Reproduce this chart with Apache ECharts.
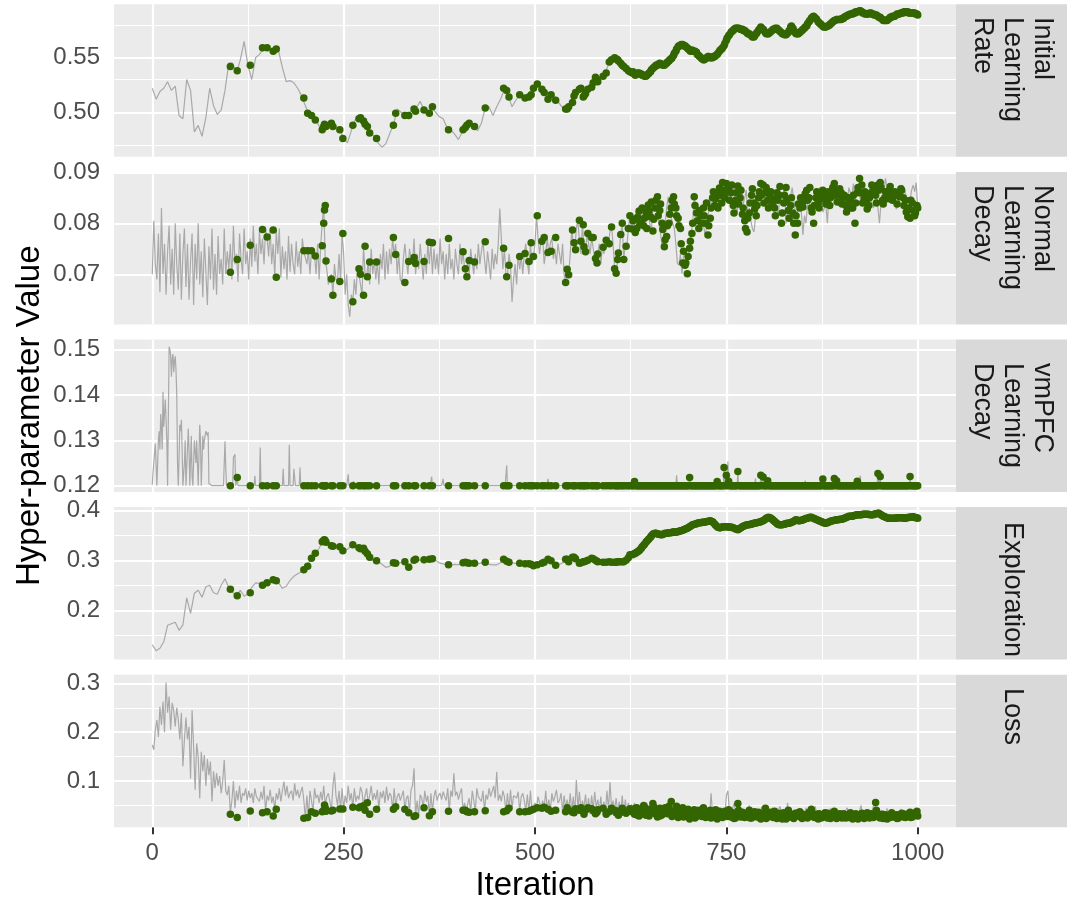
<!DOCTYPE html>
<html>
<head>
<meta charset="utf-8">
<title>Hyper-parameter traces</title>
<script src="https://cdn.jsdelivr.net/npm/echarts@6.0.0/dist/echarts.min.js"></script>
<style>
html, body { margin: 0; padding: 0; background: #ffffff; }
#chart { width: 1067px; height: 909px; }
</style>
</head>
<body>
<div id="chart"></div>
<script>
// ---------------------------------------------------------------------------
// Data: sampled parameter traces and accepted samples
// ---------------------------------------------------------------------------
const iterTicks = [0, 250, 500, 750, 1000];
const panelLabels = ['Initial\nLearning\nRate', 'Normal\nLearning\nDecay', 'vmPFC\nLearning\nDecay', 'Exploration', 'Loss'];
const yTicks = [
  [0.50, 0.55],
  [0.07, 0.08, 0.09],
  [0.12, 0.13, 0.14, 0.15],
  [0.2, 0.3, 0.4],
  [0.1, 0.2, 0.3]
];
const yDecimals = [2, 2, 2, 1, 1];
// iteration spacing of the sampled traces
const lrStep = 5, nldStep = 2, explStep = 5, lossStep = 2;

// iterations at which a proposal was accepted
const accepted = [
  102,111,128,144,150,158,162,198,203,208,213,222,224,225,226,227,234,236,245,249,262,
  270,272,276,278,281,284,293,315,318,330,335,342,344,355,362,366,387,406,409,411,414,421,435,
  459,463,466,480,487,492,495,498,503,509,512,517,521,527,540,542,544,549,551,553,558,560,
  563,564,566,569,574,576,579,581,582,589,593,597,600,604,606,608,609,612,614,616,619,622,624,
  627,630,633,636,639,642,645,648,651,654, 657,660,663,666,669,672,675,678,681,684,
  687,690,693,696,699,702,705,708,711,714, 717,720,723,726,729,732,735,738,741,744,
  747,750,753,756,759,762,765,768,771,774, 777,780,783,786,789,792,795,798,801,804,
  807,810,813,816,819,822,825,828,831,834, 837,840,843,846,849,852,855,858,861,864,
  867,870,873,876,879,882,885,888,891,894, 897,900,903,906,909,912,915,918,921,924,
  927,930,933,936,939,942,945,948,951,954, 957,960,963,966,969,972,975,978,981,984,
  987,990,993,996,999,1000,
  628,631,634,637,640,643,646,649,652,655, 658,661,664,667,670,673,676,679,682,685,
  688,691,694,697,700,703,706,709,712,715, 718,721,724,727,730,733,736,739,742,745,
  748,751,754,757,760,763,766,769,772,775, 778,781,784,787,790,793,796,799,802,805,
  808,811,814,817,820,823,826,829,832,835, 838,841,844,847,850,853,856,859,862,865,
  868,871,874,877,880,883,886,889,892,895, 898,901,904,907,910,913,916,919,922,925,
  928,931,934,937,940,943,946,949,952,955, 958,961,964,967,970,973,976,979,982,985,
  988,991,994,997
];

// Initial learning rate (every 5 iterations)
const lrTrace = [
  .522,.512,.519,.522,.528,.520,.524,.497,.494,.530,
  .520,.482,.488,.478,.495,.522,.506,.498,.502,.520,
  .545,.545,.536,.548,.565,.543,.530,.550,.553,.558,
  .559,.556,.555,.556,.541,.528,.529,.527,.522,.515,
  .506,.497,.495,.491,.485,.489,.489,.485,.487,.484,
  .476,.472,.483,.493,.496,.496,.487,.481,.478,.472,
  .468,.471,.480,.488,.503,.500,.497,.499,.502,.504,
  .510,.502,.497,.505,.500,.496,.494,.486,.484,.480,
  .475,.482,.488,.490,.487,.483,.490,.504,.505,.497,
  .505,.512,.521,.515,.505,.511,.516,.513,.514,.516,
  .522,.524,.520,.515,.517,.515,.510,.505,.503,.507,
  .515,.518,.520,.516,.521,.526,.531,.530,.534,.542,
  .547,.550,.546,.542,.539,.537,.535,.535,.534,.533,
  .537,.541,.543,.545,.544,.547,.551,.557,.561,.561,
  .558,.557,.555,.552,.548,.551,.550,.551,.555,.559,
  .566,.572,.576,.577,.576,.574,.572,.569,.573,.578,
  .573,.572,.575,.577,.574,.572,.571,.579,.573,.572,
  .575,.579,.586,.588,.583,.579,.578,.580,.583,.585,
  .585,.587,.589,.590,.592,.593,.591,.590,.591,.589,
  .587,.585,.584,.587,.588,.590,.591,.592,.591,.591,
  .589
];
const lrAccepted = [
  .542,.538,.543,.559,.559,.556,.558,.513,.499,.497,.493,.484,.487,.489,.488,.487,.490,.487,.484,.476,.488,
  .494,.495,.492,.489,.487,.481,.476,.488,.499,.497,.497,.503,.501,.502,.499,.505,.484,.484,.486,.488,.490,.487,.504,
  .522,.520,.514,.516,.513,.514,.516,.522,.526,.521,.518,.512,.516,.511,.503,.503,.505,.509,.515,.518,.521,.522,
  .514,.515,.517,.521,.523,.527,.532,.530,.528,.533,.536,.546,.548,.550,.549,.548,.547,.545,.543,.542,.540,.538,.537,
  .536,.535,.535,.536,.535,.534,.533,.535,.537,.540, .542,.543,.545,.544,.543,.545,.547,.549,.552,.556,
  .560,.561,.562,.561,.559,.557,.557,.556,.555,.552, .550,.548,.549,.551,.550,.550,.551,.553,.556,.558,
  .561,.566,.570,.573,.575,.577,.577,.576,.576,.575, .573,.572,.570,.569,.572,.575,.578,.576,.573,.572,
  .573,.575,.576,.577,.575,.573,.572,.571,.573,.578, .577,.573,.572,.573,.575,.577,.579,.583,.586,.588,
  .586,.583,.581,.579,.578,.579,.580,.582,.584,.585, .585,.585,.586,.588,.589,.590,.590,.591,.592,.593,
  .592,.591,.590,.590,.591,.590,.589,.588,.587,.585, .584,.584,.586,.587,.588,.589,.590,.591,.591,.592,
  .592,.591,.591,.591,.590,.589,
  .537,.534,.536,.535,.534,.533,.534,.536,.539,.541, .543,.544,.544,.543,.544,.546,.548,.550,.554,.558,
  .561,.562,.561,.560,.558,.556,.556,.556,.553,.551, .549,.548,.550,.551,.550,.551,.552,.554,.557,.559,
  .563,.568,.571,.574,.576,.577,.577,.576,.575,.574, .572,.571,.569,.570,.573,.576,.577,.575,.572,.572,
  .574,.576,.577,.576,.574,.572,.571,.572,.575,.579, .575,.572,.572,.574,.576,.578,.581,.584,.587,.587,
  .585,.582,.580,.578,.578,.579,.581,.583,.584,.585, .585,.586,.587,.588,.589,.590,.591,.592,.592,.593,
  .591,.590,.590,.591,.590,.589,.589,.587,.586,.584, .584,.585,.587,.588,.588,.590,.590,.591,.592,.592,
  .591,.591,.591,.590
];

// Normal learning decay (every 2 iterations)
const nldTrace = [
  .0700,.0805,.0720,.0690,.0780,.0665,.0830,.0700,.0760,.0660,.0745,.0795,.0680,.0750,.0660,.0800,.0720,.0670,.0780,.0650,.0740,.0790,.0675,.0760,.0650,
  .0725,.0780,.0640,.0760,.0690,.0800,.0680,.0745,.0655,.0770,.0705,.0640,.0755,.0690,.0790,.0670,.0740,.0660,.0775,.0700,.0730,.0680,.0790,.0700,.0745,
  .0710,.0760,.0690,.0795,.0720,.0740,.0685,.0780,.0730,.0700,.0790,.0720,.0745,.0690,.0770,.0715,.0795,.0725,.0760,.0700,.0785,.0740,.0770,.0720,.0788,
  .0773,.0735,.0790,.0720,.0760,.0695,.0787,.0740,.0790,.0694,.0755,.0710,.0745,.0690,.0775,.0705,.0760,.0720,.0700,.0765,.0715,.0745,.0700,.0770,.0746,
  .0746,.0720,.0746,.0700,.0746,.0740,.0736,.0700,.0760,.0690,.0756,.0800,.0835,.0726,.0710,.0680,.0691,.0700,.0659,.0720,.0690,.0686,.0740,.0686,.0780,
  .0740,.0660,.0700,.0640,.0617,.0660,.0646,.0690,.0660,.0711,.0700,.0680,.0659,.0755,.0700,.0695,.0724,.0680,.0750,.0700,.0730,.0690,.0724,.0680,.0740,
  .0710,.0760,.0690,.0745,.0700,.0750,.0720,.0772,.0739,.0760,.0700,.0740,.0690,.0684,.0730,.0760,.0725,.0700,.0750,.0733,.0721,.0770,.0700,.0740,.0710,
  .0760,.0725,.0690,.0740,.0700,.0763,.0720,.0762,.0700,.0750,.0710,.0740,.0700,.0770,.0720,.0745,.0690,.0740,.0700,.0760,.0710,.0730,.0690,.0750,.0720,
  .0700,.0760,.0720,.0744,.0711,.0695,.0727,.0700,.0750,.0724,.0700,.0740,.0710,.0760,.0720,.0745,.0764,.0730,.0700,.0745,.0720,.0690,.0750,.0710,.0740,
  .0720,.0760,.0829,.0770,.0710,.0751,.0700,.0695,.0740,.0718,.0646,.0690,.0720,.0680,.0740,.0710,.0735,.0700,.0741,.0760,.0725,.0700,.0762,.0720,.0735,
  .0760,.0815,.0770,.0740,.0765,.0772,.0720,.0743,.0770,.0740,.0760,.0772,.0730,.0750,.0720,.0760,.0740,.0720,.0760,.0700,.0684,.0710,.0699,.0740,.0787,
  .0762,.0748,.0790,.0806,.0765,.0740,.0797,.0754,.0744,.0780,.0760,.0740,.0772,.0770,.0731,.0722,.0740,.0760,.0720,.0753,.0740,.0767,.0770,.0760,.0785,
  .0793,.0760,.0711,.0702,.0729,.0742,.0778,.0800,.0729,.0760,.0755,.0790,.0815,.0789,.0808,.0790,.0824,.0800,.0795,.0821,.0810,.0790,.0836,.0820,.0813,
  .0800,.0785,.0830,.0852,.0840,.0825,.0800,.0780,.0754,.0774,.0800,.0830,.0852,.0830,.0810,.0800,.0790,.0760,.0722,.0718,.0740,.0701,.0735,.0751,.0720,
  .0735,.0751,.0780,.0800,.0852,.0830,.0820,.0790,.0815,.0830,.0800,.0777,.0790,.0810,.0850,.0835,.0845,.0860,.0830,.0869,.0840,.0865,.0880,.0850,.0865,
  .0878,.0862,.0870,.0845,.0860,.0875,.0835,.0820,.0845,.0860,.0873,.0838,.0850,.0865,.0818,.0830,.0805,.0790,.0783,.0810,.0820,.0840,.0855,.0868,.0878,
  .0860,.0870,.0845,.0830,.0850,.0862,.0838,.0848,.0830,.0815,.0860,.0845,.0855,.0872,.0800,.0820,.0840,.0855,.0870,.0845,.0825,.0810,.0835,.0850,.0820,
  .0777,.0815,.0800,.0838,.0830,.0850,.0840,.0832,.0845,.0858,.0865,.0870,.0850,.0822,.0830,.0835,.0800,.0862,.0850,.0830,.0840,.0848,.0855,.0858,.0865,
  .0838,.0850,.0862,.0840,.0835,.0870,.0860,.0855,.0878,.0842,.0865,.0868,.0855,.0838,.0860,.0855,.0850,.0822,.0835,.0850,.0838,.0830,.0845,.0855,.0830,
  .0800,.0840,.0860,.0870,.0888,.0860,.0875,.0840,.0850,.0862,.0845,.0828,.0835,.0850,.0860,.0875,.0868,.0858,.0855,.0840,.0845,.0865,.0875,.0862,.0880,
  .0830
];
const nldAccepted = [
  .0704,.0729,.0757,.0788,.0773,.0787,.0694,.0746,.0746,.0746,.0736,.0756,.0800,.0826,.0835,.0726,.0691,.0659,.0686,.0780,.0646,
  .0711,.0700,.0659,.0755,.0695,.0724,.0724,.0772,.0739,.0684,.0725,.0733,.0721,.0725,.0763,.0762,.0770,.0744,.0711,.0695,.0727,.0724,.0764,
  .0751,.0695,.0718,.0735,.0741,.0725,.0762,.0735,.0815,.0765,.0772,.0743,.0745,.0772,.0684,.0710,.0699,.0787,.0762,.0748,.0806,.0765,
  .0797,.0754,.0744,.0780,.0772,.0772,.0731,.0722,.0740,.0753,.0767,.0760,.0793,.0711,.0702,.0729,.0742,.0778,.0800,.0729,.0755,.0790,.0815,
  .0789,.0808,.0790,.0824,.0800,.0795,.0821,.0836,.0813,.0785, .0830,.0852,.0825,.0800,.0754,.0774,.0800,.0830,.0852,.0830,
  .0810,.0790,.0722,.0718,.0701,.0751,.0780,.0852,.0820,.0790, .0815,.0830,.0800,.0777,.0810,.0850,.0835,.0860,.0869,.0840,
  .0865,.0878,.0870,.0860,.0835,.0845,.0873,.0850,.0818,.0805, .0783,.0820,.0855,.0840,.0815,.0850,.0878,.0875,.0860,.0845,
  .0850,.0838,.0830,.0860,.0855,.0800,.0840,.0870,.0825,.0835, .0820,.0777,.0800,.0830,.0840,.0845,.0865,.0850,.0830,.0800,
  .0850,.0840,.0855,.0865,.0850,.0840,.0835,.0860,.0878,.0865, .0855,.0860,.0850,.0835,.0838,.0845,.0830,.0800,.0860,.0888,
  .0875,.0850,.0845,.0835,.0860,.0868,.0855,.0875,.0880,.0845, .0850,.0855,.0865,.0850,.0855,.0858,.0860,.0868,.0850,.0845,
  .0813,.0810,.0840,.0815,.0835,.0830,
  .0805,.0782,.0812,.0798,.0830,.0810,.0790,.0825,.0842,.0808, .0845,.0815,.0838,.0788,.0768,.0795,.0818,.0845,.0838,.0815,
  .0795,.0760,.0745,.0722,.0735,.0765,.0800,.0835,.0805,.0825, .0800,.0815,.0840,.0795,.0830,.0862,.0848,.0830,.0855,.0880,
  .0850,.0862,.0845,.0875,.0820,.0860,.0838,.0865,.0830,.0790, .0810,.0840,.0868,.0828,.0835,.0862,.0855,.0840,.0870,.0830,
  .0862,.0848,.0815,.0845,.0872,.0820,.0855,.0845,.0810,.0850, .0800,.0815,.0838,.0850,.0832,.0858,.0845,.0870,.0822,.0835,
  .0862,.0830,.0848,.0858,.0838,.0862,.0850,.0870,.0855,.0842, .0868,.0838,.0855,.0822,.0850,.0830,.0855,.0840,.0870,.0860,
  .0840,.0862,.0828,.0850,.0875,.0858,.0840,.0865,.0870,.0838, .0862,.0848,.0872,.0845,.0862,.0838,.0852,.0865,.0835,.0822,
  .0830,.0845,.0825,.0820
];

// vmPFC learning decay: trace vertices [iteration, value]
const vmpfcTrace = [
  [0,.1202],[1,.1229],[3,.1229],[4,.1293],[6,.1200],[8,.1300],[9,.1320],[10,.1280],[11,.1358],[12,.1330],
  [13,.1280],[14,.1407],[15,.1330],[16,.1360],[17,.1390],[19,.1300],[20,.1200],[21,.1350],[22,.1506],[23,.1500],
  [24,.1488],[25,.1440],[26,.1480],[27,.1490],[28,.1450],[29,.1475],[30,.1485],[31,.1455],[32,.1400],[33,.1250],
  [34,.1200],[35,.1260],[36,.1334],[37,.1320],[38,.1345],[39,.1280],[40,.1200],[42,.1250],[43,.1300],[44,.1200],
  [46,.1280],[47,.1326],[48,.1280],[49,.1200],[51,.1310],[52,.1220],[53,.1200],[55,.1300],[57,.1250],[58,.1300],
  [60,.1200],[62,.1334],[63,.1300],[64,.1200],[66,.1310],[67,.1280],[68,.1300],[70,.1320],[72,.1310],[73,.1318],
  [74,.1205],[76,.1205],[78,.1200],[93,.1200],[95,.1298],[96,.1240],[97,.1200],[105,.1200],[106,.1262],[108,.1269],
  [109,.1200],[110,.1200],[111,.1218],[112,.1200],[133,.1200],[134,.1222],[135,.1200],[140,.1200],[141,.1284],[142,.1200],
  [170,.1200],[171,.1237],[172,.1200],[178,.1200],[179,.1290],[180,.1200],[184,.1200],[185,.1237],[187,.1200],[192,.1200],
  [193,.1240],[194,.1200],[254,.1200],[256,.1225],[257,.1200],[262,.1200],[263,.1210],[264,.1200],[363,.1200],[365,.1220],
  [366,.1200],[378,.1200],[380,.1215],[381,.1200],[461,.1200],[463,.1245],[464,.1200],[515,.1200],[517,.1215],[518,.1200],
  [629,.1200],[630,.1209],[631,.1200],[684,.1200],[685,.1223],[686,.1200],[701,.1200],[702,.1218],[703,.1200],[737,.1200],
  [738,.1209],[739,.1200],[746,.1200],[747,.1240],[748,.1200],[749,.1200],[750,.1223],[751,.1200],[752,.1253],[753,.1210],
  [754,.1200],[764,.1200],[765,.1231],[766,.1200],[787,.1200],[788,.1216],[789,.1200],[794,.1200],[795,.1223],[796,.1200],
  [797,.1200],[798,.1219],[799,.1200],[803,.1200],[804,.1211],[805,.1200],[852,.1200],[853,.1211],[854,.1200],[875,.1200],
  [876,.1215],[877,.1200],[890,.1200],[891,.1216],[892,.1200],[893,.1200],[894,.1211],[895,.1200],[920,.1200],[921,.1210],
  [922,.1200],[924,.1200],[925,.1222],[926,.1200],[947,.1200],[948,.1227],[949,.1200],[950,.1200],[951,.1220],[952,.1200],
  [989,.1200],[990,.1220],[991,.1200],[1000,.1200]
];
const vmpfcAccepted = [
  .12,.1218,.12,.12,.12,.12,.12,.12,.12,.12,.12,.12,.12,.12,.12,.12,.12,.12,.12,.12,.12,
  .12,.12,.12,.12,.12,.12,.12,.12,.12,.12,.12,.12,.12,.12,.12,.12,.12,.12,.12,.12,.12,.12,.12,
  .12,.12,.12,.12,.12,.12,.12,.12,.12,.12,.12,.12,.12,.12,.12,.12,.12,.12,.12,.12,.12,.12,
  .12,.12,.12,.12,.12,.12,.12,.12,.12,.12,.12,.12,.12,.12,.12,.12,.12,.12,.12,.12,.12,.12,.12,
  .12,.1209,.12,.12,.12,.12,.12,.12,.12,.12, .12,.12,.12,.12,.12,.12,.12,.12,.12,.12,
  .12,.12,.12,.12,.12,.1218,.12,.12,.12,.12, .12,.12,.12,.12,.12,.12,.12,.1209,.12,.12,
  .124,.1223,.121,.12,.12,.12,.1231,.12,.12,.12, .12,.12,.12,.12,.12,.12,.1223,.1219,.12,.1211,
  .12,.12,.12,.12,.12,.12,.12,.12,.12,.12, .12,.12,.12,.12,.12,.12,.12,.12,.12,.12,
  .12,.12,.12,.1215,.12,.12,.12,.12,.1216,.1211, .12,.12,.12,.12,.12,.12,.12,.12,.121,.12,
  .12,.12,.12,.12,.12,.12,.12,.1227,.122,.12, .12,.12,.12,.12,.12,.12,.12,.12,.12,.12,
  .12,.122,.12,.12,.12,.12,
  .12,.12,.12,.12,.12,.12,.12,.12,.12,.12, .12,.12,.12,.12,.12,.12,.12,.12,.12,.12,
  .12,.12,.12,.12,.12,.12,.12,.12,.12,.12, .12,.12,.12,.12,.12,.12,.12,.12,.12,.12,
  .12,.12,.12,.12,.12,.12,.12,.12,.12,.12, .12,.12,.12,.12,.12,.12,.12,.12,.12,.12,
  .12,.12,.12,.12,.12,.12,.12,.12,.12,.12, .12,.12,.12,.12,.12,.12,.12,.12,.12,.12,
  .12,.12,.12,.12,.12,.12,.12,.12,.12,.12, .12,.12,.12,.12,.12,.12,.12,.12,.12,.12,
  .12,.12,.12,.12,.12,.12,.12,.12,.12,.12, .12,.12,.12,.12,.12,.12,.12,.12,.12,.12,
  .12,.12,.12,.12
];

// Exploration (every 5 iterations)
const explTrace = [
  .131,.119,.124,.137,.170,.173,.176,.160,.171,.225,
  .194,.234,.240,.226,.247,.250,.235,.232,.250,.263,
  .245,.236,.229,.240,.228,.233,.246,.255,.254,.252,
  .255,.260,.260,.255,.244,.248,.260,.268,.273,.277,
  .285,.297,.307,.316,.330,.341,.333,.329,.327,.326,
  .318,.322,.329,.327,.322,.324,.312,.301,.299,.298,
  .292,.286,.288,.295,.294,.296,.296,.287,.298,.302,
  .300,.301,.300,.303,.300,.295,.293,.291,.290,.292,
  .291,.295,.296,.294,.294,.293,.295,.296,.292,.291,
  .291,.295,.300,.298,.295,.294,.294,.293,.293,.292,
  .290,.292,.294,.299,.299,.292,.290,.294,.301,.297,
  .305,.297,.296,.298,.302,.304,.299,.296,.296,.297,
  .297,.296,.297,.297,.303,.310,.313,.318,.328,.336,
  .345,.354,.353,.351,.354,.355,.356,.356,.359,.361,
  .365,.370,.373,.375,.376,.377,.379,.372,.365,.366,
  .367,.367,.365,.361,.366,.370,.371,.373,.375,.377,
  .381,.386,.382,.375,.371,.372,.374,.376,.380,.379,
  .382,.384,.386,.383,.380,.376,.374,.377,.380,.381,
  .382,.385,.387,.388,.391,.391,.392,.392,.391,.393,
  .393,.388,.385,.384,.384,.385,.385,.384,.386,.387,
  .384
];
const explAccepted = [
  .242,.229,.235,.250,.255,.261,.259,.281,.288,.304,.314,.337,.340,.341,.339,.336,.329,.328,.327,.319,.331,
  .325,.323,.324,.318,.313,.306,.299,.295,.294,.297,.286,.300,.302,.301,.302,.303,.291,.295,.296,.295,.294,.294,.296,
  .302,.298,.296,.294,.293,.293,.292,.289,.291,.294,.296,.302,.299,.290,.302,.302,.297,.306,.306,.303,.294,.295,
  .297,.297,.298,.300,.304,.303,.300,.298,.297,.296,.296,.297,.296,.296,.296,.297,.297,.297,.297,.297,.300,.305,.311,
  .311,.313,.316,.319,.324,.330,.336,.341,.346,.352, .354,.353,.352,.351,.353,.354,.355,.355,.357,.356,
  .357,.359,.360,.362,.364,.367,.370,.372,.373,.375, .375,.376,.377,.378,.379,.377,.372,.367,.365,.366,
  .367,.367,.367,.366,.365,.363,.361,.364,.367,.369, .371,.371,.372,.374,.375,.376,.377,.379,.382,.385,
  .385,.382,.378,.374,.371,.371,.372,.373,.374,.375, .377,.380,.380,.379,.380,.382,.384,.385,.386,.384,
  .382,.380,.378,.376,.374,.375,.377,.379,.380,.381, .381,.382,.383,.385,.387,.388,.388,.390,.391,.391,
  .391,.392,.392,.392,.391,.391,.393,.394,.392,.389, .387,.385,.384,.384,.384,.384,.385,.385,.385,.384,
  .385,.386,.387,.386,.385,.384,
  .312,.314,.317,.321,.327,.332,.338,.343,.349,.353, .354,.352,.351,.352,.354,.354,.355,.356,.356,.357,
  .358,.359,.361,.363,.365,.368,.371,.372,.374,.375, .376,.376,.377,.378,.378,.375,.370,.366,.365,.367,
  .367,.367,.366,.366,.364,.362,.362,.365,.368,.370, .371,.372,.373,.374,.375,.376,.378,.380,.384,.386,
  .384,.380,.376,.372,.371,.371,.372,.374,.374,.376, .378,.381,.379,.380,.381,.383,.384,.386,.385,.383,
  .381,.379,.377,.375,.374,.376,.378,.379,.380,.381, .382,.382,.384,.386,.388,.388,.389,.390,.391,.391,
  .392,.392,.392,.391,.391,.392,.393,.394,.391,.388, .386,.384,.384,.384,.384,.385,.385,.385,.384,.385,
  .386,.386,.387,.385
];

// Loss (every 2 iterations)
const lossTrace = [
  .174,.164,.205,.225,.190,.252,.215,.263,.200,.302,.240,.273,.205,.260,.245,.212,.250,.225,.185,.240,.130,.185,.230,.185,.211,
  .105,.245,.170,.082,.177,.150,.064,.160,.120,.153,.090,.145,.112,.140,.058,.120,.085,.116,.090,.110,.075,.100,.143,.080,.071,
  .090,.034,.060,.100,.044,.080,.060,.090,.055,.075,.070,.085,.060,.080,.065,.075,.055,.085,.068,.072,.058,.078,.062,.090,.037,
  .070,.060,.082,.055,.068,.042,.075,.062,.085,.058,.080,.099,.070,.090,.065,.075,.080,.060,.095,.070,.082,.065,.078,.088,.060,
  .024,.070,.025,.080,.060,.037,.085,.065,.072,.055,.078,.060,.090,.051,.068,.075,.058,.039,.090,.118,.070,.050,.080,.043,.085,
  .043,.070,.055,.090,.060,.075,.046,.085,.058,.070,.062,.088,.078,.049,.070,.085,.056,.070,.090,.060,.075,.062,.082,.042,.078,
  .065,.080,.055,.088,.060,.075,.070,.042,.085,.047,.068,.075,.060,.070,.080,.042,.065,.070,.035,.082,.090,.126,.027,.060,.029,
  .072,.065,.045,.080,.058,.070,.029,.075,.037,.068,.082,.060,.070,.075,.062,.078,.068,.060,.085,.038,.080,.068,.116,.070,.078,
  .062,.075,.085,.040,.055,.040,.037,.065,.036,.080,.060,.037,.085,.068,.070,.058,.080,.039,.072,.062,.085,.068,.070,.090,.065,
  .119,.060,.072,.058,.080,.068,.037,.075,.039,.082,.044,.070,.072,.065,.078,.037,.068,.075,.060,.037,.072,.038,.080,.040,.042,
  .055,.045,.068,.072,.044,.060,.046,.080,.042,.062,.038,.075,.058,.068,.082,.055,.060,.075,.037,.070,.045,.062,.040,.075,.036,
  .068,.035,.102,.043,.078,.040,.060,.045,.072,.038,.065,.032,.070,.040,.078,.045,.062,.039,.068,.033,.058,.036,.080,.041,.098,
  .044,.060,.040,.065,.035,.058,.038,.070,.030,.062,.036,.055,.034,.052,.043,.055,.040,.050,.032,.048,.045,.050,.030,.055,.042,
  .050,.035,.054,.038,.048,.026,.045,.044,.031,.050,.040,.038,.036,.055,.048,.058,.030,.050,.042,.025,.045,.036,.048,.028,.038,
  .035,.022,.042,.033,.041,.027,.048,.036,.030,.045,.025,.050,.034,.040,.028,.075,.032,.022,.038,.027,.044,.035,.030,.040,.026,
  .070,.080,.038,.024,.045,.054,.030,.040,.036,.048,.025,.032,.042,.040,.024,.050,.031,.028,.036,.040,.022,.035,.030,.046,.044,
  .046,.026,.033,.040,.028,.045,.038,.023,.034,.031,.048,.035,.022,.040,.029,.055,.025,.034,.032,.028,.037,.040,.023,.038,.030,
  .036,.026,.045,.036,.033,.042,.040,.027,.048,.032,.022,.040,.030,.034,.026,.042,.035,.024,.044,.031,.028,.038,.032,.023,.040,
  .030,.026,.035,.033,.045,.024,.029,.032,.035,.022,.038,.028,.031,.050,.025,.034,.038,.023,.040,.030,.036,.048,.056,.030,.032,
  .024,.040,.032,.035,.027,.044,.022,.030,.038,.035,.032,.026,.038,.031,.042,.024,.029,.033,.036,.025,.030,.040,.036,.026,.038,
  .028
];
const lossAccepted = [
  .032,.025,.0385,.035,.037,.028,.042,.0235,.025,.037,.034,.037,.040,.051,.045,.038,.0385,.040,.0426,.0426,.046,
  .045,.047,.049,.040,.0556,.032,.042,.042,.047,.042,.035,.027,.029,.045,.029,.037,.038,.040,.040,.037,.036,.037,.039,
  .037,.039,.044,.037,.037,.038,.040,.042,.045,.044,.046,.042,.038,.040,.037,.045,.040,.036,.035,.043,.040,.045,
  .038,.032,.040,.045,.043,.039,.033,.036,.041,.044,.032,.037,.044,.040,.035,.038,.030,.036,.044,.040,.034,.038,.043,
  .040,.032,.045,.028,.038,.050,.030,.042,.035,.054, .038,.026,.044,.031,.040,.036,.048,.058,.030,.042,
  .025,.036,.045,.028,.038,.022,.033,.041,.027,.036, .030,.045,.025,.034,.040,.028,.032,.022,.038,.027,
  .035,.030,.041,.026,.033,.024,.054,.030,.036,.025, .032,.040,.024,.031,.028,.036,.022,.030,.044,.026,
  .033,.028,.038,.023,.031,.027,.035,.022,.040,.029, .025,.034,.028,.037,.023,.030,.026,.036,.042,.027,
  .032,.022,.030,.026,.035,.024,.031,.028,.038,.023, .030,.026,.033,.024,.029,.035,.022,.028,.031,.025,
  .034,.023,.030,.027,.033,.025,.056,.030,.024,.032, .027,.022,.030,.035,.026,.031,.024,.029,.033,.025,
  .030,.036,.026,.032,.038,.028,
  .036,.044,.030,.040,.033,.046,.038,.028,.041,.047, .032,.040,.029,.037,.045,.033,.039,.027,.035,.048,
  .031,.040,.026,.034,.042,.029,.036,.024,.033,.040, .027,.035,.030,.038,.024,.032,.041,.028,.033,.025,
  .038,.027,.031,.036,.023,.030,.040,.026,.033,.029, .035,.024,.030,.037,.026,.032,.028,.035,.023,.030,
  .036,.025,.031,.028,.034,.022,.029,.033,.026,.031, .023,.030,.035,.026,.032,.028,.024,.031,.034,.025,
  .029,.033,.024,.030,.027,.034,.023,.029,.032,.026, .033,.024,.028,.031,.025,.030,.027,.033,.022,.029,
  .031,.026,.035,.024,.029,.032,.040,.026,.030,.023, .031,.028,.025,.032,.027,.023,.030,.034,.026,.029,
  .033,.025,.031,.035
];

// ---------------------------------------------------------------------------
// Assemble series pairs
// ---------------------------------------------------------------------------
function stepped(values, step) {
  return values.map((v, k) => [k * step, v]);
}
function atAccepted(values) {
  if (values.length !== accepted.length) {
    throw new Error('accepted values length ' + values.length + ' != ' + accepted.length);
  }
  return accepted.map((it, k) => [it, values[k]]);
}
const traces = [stepped(lrTrace, lrStep), stepped(nldTrace, nldStep), vmpfcTrace,
                stepped(explTrace, explStep), stepped(lossTrace, lossStep)];
const points = [atAccepted(lrAccepted), atAccepted(nldAccepted), atAccepted(vmpfcAccepted),
                atAccepted(explAccepted), atAccepted(lossAccepted)];

// ---------------------------------------------------------------------------
// Layout / styling
// ---------------------------------------------------------------------------
const FONT = '"Liberation Sans", Arial, Helvetica, sans-serif';
const PLOT_LEFT = 114, PLOT_WIDTH = 842, PANEL_HEIGHT = 152.5;
const PANEL_TOPS = [4.3, 171.9, 339.5, 507.1, 674.7];
const STRIP_LEFT = 956, STRIP_WIDTH = 111;
const X_RANGE = [-50, 1050];
const Y_RANGES = [[0.4592, 0.5989], [0.06018, 0.09008], [0.11861, 0.1522], [0.1014, 0.4064], [0.0053, 0.3178]];
const STRIP_TEXT_START = [17, 185, 363, 522, 688];

const grids = [], xAxes = [], yAxes = [], series = [];

const xMinor = [];
for (let k = 0; k < iterTicks.length - 1; k++) xMinor.push((iterTicks[k] + iterTicks[k + 1]) / 2);

PANEL_TOPS.forEach((top, p) => {
  const last = p === PANEL_TOPS.length - 1;
  grids.push({
    left: PLOT_LEFT, top: top, width: PLOT_WIDTH, height: PANEL_HEIGHT,
    show: true, backgroundColor: '#EBEBEB', borderWidth: 0, containLabel: false
  });
  xAxes.push({
    type: 'value', gridIndex: p, min: X_RANGE[0], max: X_RANGE[1],
    axisLine: { show: false },
    splitLine: { show: false },
    axisTick: { show: last, customValues: iterTicks, length: 7, lineStyle: { color: '#333333', width: 2 } },
    axisLabel: {
      show: last, customValues: iterTicks, margin: 14,
      color: '#4D4D4D', fontSize: 24, fontFamily: FONT,
      formatter: v => String(v)
    }
  });
  const ticks = yTicks[p];
  yAxes.push({
    type: 'value', gridIndex: p, min: Y_RANGES[p][0], max: Y_RANGES[p][1],
    axisLine: { show: false },
    splitLine: { show: false },
    axisTick: { show: true, customValues: ticks, length: 7, lineStyle: { color: '#333333', width: 2 } },
    axisLabel: {
      show: true, customValues: ticks, margin: 14,
      color: '#4D4D4D', fontSize: 24, fontFamily: FONT,
      formatter: v => Number(v).toFixed(yDecimals[p])
    }
  });

  // white panel grid (major + minor)
  const step = ticks[1] - ticks[0];
  const yMinor = [];
  for (let v = ticks[0] - step / 2; v < Y_RANGES[p][1]; v += step) {
    if (v > Y_RANGES[p][0]) yMinor.push(v);
  }
  const gridLines = [];
  xMinor.forEach(v => gridLines.push({ xAxis: v, lineStyle: { color: '#FFFFFF', width: 1.1, type: 'solid' } }));
  yMinor.forEach(v => gridLines.push({ yAxis: v, lineStyle: { color: '#FFFFFF', width: 1.1, type: 'solid' } }));
  iterTicks.forEach(v => gridLines.push({ xAxis: v, lineStyle: { color: '#FFFFFF', width: 2.2, type: 'solid' } }));
  ticks.forEach(v => gridLines.push({ yAxis: v, lineStyle: { color: '#FFFFFF', width: 2.2, type: 'solid' } }));

  series.push({
    name: 'grid-' + p, type: 'line', xAxisIndex: p, yAxisIndex: p, data: [],
    silent: true, z: 1,
    markLine: {
      silent: true, z: 1, symbol: ['none', 'none'], animation: false,
      label: { show: false }, emphasis: { disabled: true },
      data: gridLines
    }
  });
  series.push({
    name: 'trace-' + p, type: 'line', xAxisIndex: p, yAxisIndex: p,
    data: traces[p], showSymbol: false, symbol: 'none', silent: true, z: 2,
    lineStyle: { color: '#A9A9A9', width: 1.2 }, animation: false
  });
  series.push({
    name: 'accepted-' + p, type: 'scatter', xAxisIndex: p, yAxisIndex: p,
    data: points[p], symbolSize: 7.5, silent: true, z: 3,
    itemStyle: { color: '#336600', opacity: 1 }, animation: false
  });
});

// facet strips and axis titles
const graphics = [];
PANEL_TOPS.forEach((top, p) => {
  graphics.push({
    type: 'rect', silent: true, z: 0,
    shape: { x: STRIP_LEFT, y: top, width: STRIP_WIDTH, height: PANEL_HEIGHT },
    style: { fill: '#D9D9D9' }
  });
  graphics.push({
    type: 'text', silent: true, z: 1,
    x: 1012, y: STRIP_TEXT_START[p], rotation: -Math.PI / 2,
    style: {
      text: panelLabels[p], fill: '#1A1A1A', font: '27px ' + FONT,
      align: 'left', verticalAlign: 'middle', lineHeight: 30
    }
  });
});
graphics.push({
  type: 'text', silent: true, x: 30, y: (PANEL_TOPS[0] + PANEL_TOPS[4] + PANEL_HEIGHT) / 2,
  rotation: Math.PI / 2,
  style: { text: 'Hyper-parameter Value', fill: '#000000', font: '33px ' + FONT, align: 'center', verticalAlign: 'middle' }
});
graphics.push({
  type: 'text', silent: true, x: PLOT_LEFT + PLOT_WIDTH / 2, y: 886,
  style: { text: 'Iteration', fill: '#000000', font: '33px ' + FONT, align: 'center', verticalAlign: 'middle' }
});

const chart = echarts.init(document.getElementById('chart'), null, { renderer: 'canvas' });
chart.setOption({
  animation: false,
  backgroundColor: '#FFFFFF',
  grid: grids,
  xAxis: xAxes,
  yAxis: yAxes,
  series: series,
  graphic: graphics
});
</script>
</body>
</html>
